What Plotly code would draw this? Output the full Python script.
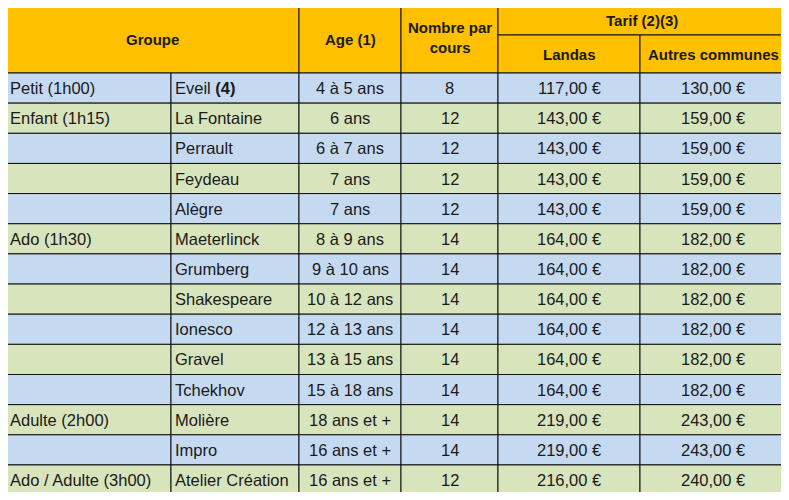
import plotly.graph_objects as go

# table content
groupes = ["Petit (1h00)", "Enfant (1h15)", "", "", "", "Ado (1h30)", "", "", "", "", "",
           "Adulte (2h00)", "", "Ado / Adulte (3h00)"]
cours = ["Eveil <b>(4)</b>", "La Fontaine", "Perrault", "Feydeau", "Alègre", "Maeterlinck",
         "Grumberg", "Shakespeare", "Ionesco", "Gravel", "Tchekhov", "Molière", "Impro",
         "Atelier Création"]
ages = ["4 à 5 ans", "6 ans", "6 à 7 ans", "7 ans", "7 ans", "8 à 9 ans", "9 à 10 ans",
        "10 à 12 ans", "12 à 13 ans", "13 à 15 ans", "15 à 18 ans", "18 ans et +",
        "16 ans et +", "16 ans et +"]
nombre = [8, 12, 12, 12, 12, 14, 14, 14, 14, 14, 14, 14, 14, 12]
landas = [117, 143, 143, 143, 143, 164, 164, 164, 164, 164, 164, 219, 219, 216]
autres = [130, 159, 159, 159, 159, 182, 182, 182, 182, 182, 182, 243, 243, 240]

def euro(v):
    return f"{v:.2f}".replace(".", ",") + " €"

# layout geometry (page pixels)
col_x = [5, 171, 299, 401, 498, 640, 786]
head_top, head_mid, head_bot = 5, 35, 73
row_h = 30.15
ORANGE, BLUE, GREEN = "#FFC000", "#C5D9F1", "#D8E4BC"
FONT = dict(family="Liberation Sans, Arial", size=16.5, color="#1a1a1a")
BFONT = dict(family="Liberation Sans, Arial", size=15, color="#1a1a1a")
PAD = 8  # html body margin

fig = go.Figure()
shapes, ann = [], []

def rect(x0, y0, x1, y1, fill):
    shapes.append(dict(type="rect", x0=x0, x1=x1, y0=y0, y1=y1, fillcolor=fill,
                       line=dict(color="#111", width=1), layer="below"))

def text(x, y, s, anchor="center", bold=False):
    ann.append(dict(x=x, y=y, text=f"<b>{s}</b>" if bold else s, showarrow=False,
                    xanchor=anchor, yanchor="middle", font=BFONT if bold else FONT,
                    align="center"))

# header
rect(col_x[0], head_top, col_x[2], head_bot, ORANGE)
rect(col_x[2], head_top, col_x[3], head_bot, ORANGE)
rect(col_x[3], head_top, col_x[4], head_bot, ORANGE)
rect(col_x[4], head_top, col_x[6], head_mid, ORANGE)
rect(col_x[4], head_mid, col_x[5], head_bot, ORANGE)
rect(col_x[5], head_mid, col_x[6], head_bot, ORANGE)
text((col_x[0] + col_x[2]) / 2, 39, "Groupe", bold=True)
text((col_x[2] + col_x[3]) / 2, 39, "Age (1)", bold=True)
text((col_x[3] + col_x[4]) / 2, 37, "Nombre par<br>cours", bold=True)
text((col_x[4] + col_x[6]) / 2, 20, "Tarif (2)(3)", bold=True)
text((col_x[4] + col_x[5]) / 2, 54, "Landas", bold=True)
text((col_x[5] + col_x[6]) / 2, 54, "Autres communes", bold=True)

# body
for i in range(len(cours)):
    y0 = head_bot + i * row_h
    y1 = y0 + row_h
    yc = (y0 + y1) / 2
    fill = BLUE if i % 2 == 0 else GREEN
    for c in range(6):
        rect(col_x[c], y0, col_x[c + 1], y1, fill)
    text(col_x[0] + 3, yc, groupes[i], anchor="left")
    text(col_x[1] + 2, yc, cours[i], anchor="left")
    text((col_x[2] + col_x[3]) / 2, yc, ages[i])
    text((col_x[3] + col_x[4]) / 2, yc, str(nombre[i]))
    text((col_x[4] + col_x[5]) / 2, yc, euro(landas[i]))
    text((col_x[5] + col_x[6]) / 2, yc, euro(autres[i]))

fig.update_layout(
    width=789 - 2 * PAD, height=500 - 2 * PAD, margin=dict(l=0, r=0, t=0, b=0),
    paper_bgcolor="white", plot_bgcolor="white", showlegend=False,
    xaxis=dict(range=[PAD, 789 - PAD], visible=False, fixedrange=True),
    yaxis=dict(range=[500 - PAD, PAD], visible=False, fixedrange=True),
    shapes=shapes, annotations=ann,
)
fig.write_html("out.html")
